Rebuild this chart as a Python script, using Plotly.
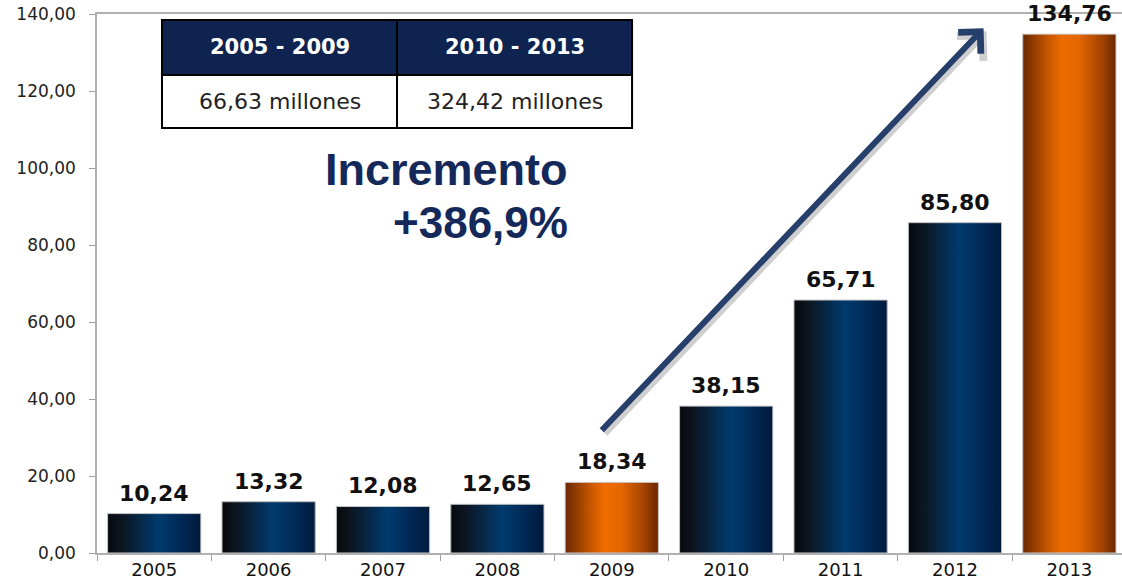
import plotly.graph_objects as go

years = ["2005", "2006", "2007", "2008", "2009", "2010", "2011", "2012", "2013"]
values = [10.24, 13.32, 12.08, 12.65, 18.34, 38.15, 65.71, 85.80, 134.76]
highlight = [False, False, False, False, True, False, False, False, True]

table_header = ["2005 - 2009", "2010 - 2013"]
table_cells = ["66,63 millones", "324,42 millones"]
title_lines = ["Incremento", "+386,9%"]

BLUE_SCALE = [[0, "#07090d"], [0.15, "#0c1520"], [0.55, "#003b6e"], [0.8, "#002855"], [1, "#001a3b"]]
ORANGE_SCALE = [[0, "#6a2700"], [0.28, "#c95800"], [0.42, "#ee6c00"], [0.6, "#e56700"], [0.85, "#a24200"], [1, "#6a2700"]]
BAR_W = 0.815
X_RANGE = [-0.5, 8.46]

fig = go.Figure()

# base bars (category axis)
fig.add_trace(go.Bar(
    x=years, y=values, width=BAR_W,
    marker=dict(color=["#e86800" if h else "#00305e" for h in highlight], line=dict(width=0)),
    showlegend=False, hoverinfo="skip",
))

# gradient overlays derived from the same data
for i, (v, h) in enumerate(zip(values, highlight)):
    x0, x1 = i - BAR_W / 2, i + BAR_W / 2
    fig.add_trace(go.Scatter(
        x=[x0, x1, x1, x0, x0], y=[0, 0, v, v, 0],
        xaxis="x2", yaxis="y", mode="lines",
        line=dict(color="#c8c8c8", width=1),
        fill="toself",
        fillgradient=dict(type="horizontal", colorscale=ORANGE_SCALE if h else BLUE_SCALE),
        showlegend=False, hoverinfo="skip",
    ))

# value labels
for i, v in enumerate(values):
    fig.add_annotation(
        x=i, y=v, xref="x2", yref="y",
        text=f"{v:.2f}".replace(".", ","),
        showarrow=False, xanchor="center", yanchor="bottom", yshift=6,
        font=dict(family="DejaVu Sans", size=22, color="#111111", weight="bold"),
    )

# arrow with shadow
fig.add_annotation(x=7.25, y=136.3, ax=3.9, ay=31.5, xref="x2", yref="y", axref="x2", ayref="y",
                   text="", showarrow=True, arrowhead=4, arrowsize=1.0, arrowwidth=7,
                   arrowcolor="rgba(120,120,120,0.35)", xshift=3, yshift=-3)
fig.add_annotation(x=7.25, y=136.3, ax=3.9, ay=31.5, xref="x2", yref="y", axref="x2", ayref="y",
                   text="", showarrow=True, arrowhead=4, arrowsize=1.0, arrowwidth=6,
                   arrowcolor="#27406b")

# Incremento text
fig.add_annotation(x=0.461, y=0.712, xref="paper", yref="paper", text=title_lines[0],
                   showarrow=False, xanchor="right", yanchor="middle",
                   font=dict(family="Liberation Sans", size=45, color="#14295a", weight="bold"))
fig.add_annotation(x=0.461, y=0.613, xref="paper", yref="paper", text=title_lines[1],
                   showarrow=False, xanchor="right", yanchor="middle",
                   font=dict(family="Liberation Sans", size=44, color="#14295a", weight="bold"))

# summary table drawn with shapes + text
col_x = [0.0634, 0.2927, 0.522]
row_y = [0.9889, 0.8868, 0.7885]
for c in range(2):
    fig.add_shape(type="rect", xref="paper", yref="paper", layer="above",
                  x0=col_x[c], x1=col_x[c + 1], y0=row_y[1], y1=row_y[0],
                  fillcolor="#0f2350", line=dict(color="#000000", width=2))
    fig.add_shape(type="rect", xref="paper", yref="paper", layer="above",
                  x0=col_x[c], x1=col_x[c + 1], y0=row_y[2], y1=row_y[1],
                  fillcolor="white", line=dict(color="#000000", width=2))
    fig.add_annotation(x=(col_x[c] + col_x[c + 1]) / 2, y=(row_y[0] + row_y[1]) / 2,
                       xref="paper", yref="paper", text=table_header[c], showarrow=False,
                       xanchor="center", yanchor="middle",
                       font=dict(family="DejaVu Sans", size=21, color="white", weight="bold"))
    fig.add_annotation(x=(col_x[c] + col_x[c + 1]) / 2, y=(row_y[1] + row_y[2]) / 2,
                       xref="paper", yref="paper", text=table_cells[c], showarrow=False,
                       xanchor="center", yanchor="middle",
                       font=dict(family="DejaVu Sans", size=22, color="#222222"))

fig.update_layout(
    width=1122, height=586,
    margin=dict(l=97, r=0, t=14, b=33),
    paper_bgcolor="white", plot_bgcolor="white",
    separators=",.",
    bargap=0.18,
    showlegend=False,
    xaxis=dict(type="category", range=X_RANGE, tickson="boundaries", ticks="outside", ticklen=6,
               tickcolor="#a0a0a0", showline=True, linecolor="#b0b0b0", linewidth=1.5, mirror=True,
               showgrid=False, tickfont=dict(family="DejaVu Sans", size=18, color="#111111")),
    xaxis2=dict(overlaying="x", range=X_RANGE, visible=False, showgrid=False, zeroline=False),
    yaxis=dict(range=[0, 140], dtick=20, tickformat=".2f", ticks="outside", ticklen=6,
               tickcolor="#a0a0a0", showline=True, linecolor="#b0b0b0", linewidth=1.5,
               showgrid=False, zeroline=False, ticklabelstandoff=10,
               tickfont=dict(family="DejaVu Sans", size=17, color="#222222")),
)

fig.write_html("out.html")
